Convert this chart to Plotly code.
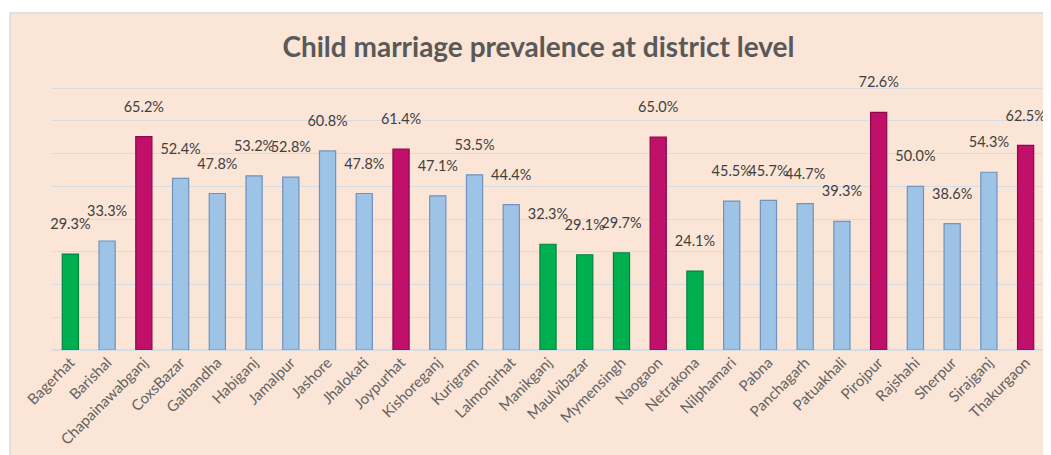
import plotly.graph_objects as go

districts = ["Bagerhat", "Barishal", "Chapainawabganj", "CoxsBazar", "Gaibandha", "Habiganj",
             "Jamalpur", "Jashore", "Jhalokati", "Joypurhat", "Kishoreganj", "Kurigram",
             "Lalmonirhat", "Manikganj", "Maulvibazar", "Mymensingh", "Naogaon", "Netrakona",
             "Nilphamari", "Pabna", "Panchagarh", "Patuakhali", "Pirojpur", "Rajshahi",
             "Sherpur", "Sirajganj", "Thakurgaon"]
prevalence = [29.3, 33.3, 65.2, 52.4, 47.8, 53.2, 52.8, 60.8, 47.8, 61.4, 47.1, 53.5, 44.4, 32.3,
              29.1, 29.7, 65.0, 24.1, 45.5, 45.7, 44.7, 39.3, 72.6, 50.0, 38.6, 54.3, 62.5]
# L = low (green), M = middle (blue), H = high (magenta)
group = ["L", "M", "H", "M", "M", "M", "M", "M", "M", "H", "M", "M", "M", "L",
         "L", "L", "H", "L", "M", "M", "M", "M", "H", "M", "M", "M", "H"]
grid_vals = [10, 20, 30, 40, 50, 60, 70, 80]

fill = {"L": "#00b050", "M": "#9dc3e6", "H": "#c0106a"}
edge = {"L": "#00843c", "M": "#6f93be", "H": "#8c0a4c"}

fig = go.Figure(go.Bar(
    x=districts,
    y=prevalence,
    # empty second line lifts the label a bit off the bar, like the original
    text=[f"{v:.1f}%<br> " for v in prevalence],
    textposition="outside",
    constraintext="none",
    textfont=dict(size=14.5, color="#404040"),
    cliponaxis=False,
    width=0.44,
    marker=dict(color=[fill[g] for g in group],
                line=dict(color=[edge[g] for g in group], width=1.2)),
))

# page body has an 8px margin, so the figure is 8px smaller than the window
fig.update_layout(
    width=1043, height=447,
    margin=dict(l=44, r=7, t=67, b=105, autoexpand=False),
    paper_bgcolor="white",
    plot_bgcolor="rgba(0,0,0,0)",
    font=dict(family="Lato, Open Sans, sans-serif", color="#595959"),
    title=dict(text="<b>Child marriage prevalence at district level</b>",
               x=0.5086, xanchor="center", y=0.913, yanchor="middle",
               font=dict(size=28, color="#595959")),
    showlegend=False,
    shapes=[dict(type="rect", xref="paper", yref="paper",
                 x0=-0.0423, x1=1.02, y0=-0.45, y1=1.2255,
                 fillcolor="#fbe5d6", line=dict(color="#d9d9d9", width=1.5),
                 layer="below")],
)
fig.update_xaxes(tickangle=-45, tickfont=dict(size=15, color="#636363"),
                 showline=False, showgrid=False, ticks="", automargin=False)
fig.update_yaxes(range=[0, 84], tickvals=grid_vals, showticklabels=False, automargin=False,
                 gridcolor="#d6dce4", gridwidth=1, zeroline=True,
                 zerolinecolor="#d6dce4", zerolinewidth=1.5)

fig.write_html("out.html")
